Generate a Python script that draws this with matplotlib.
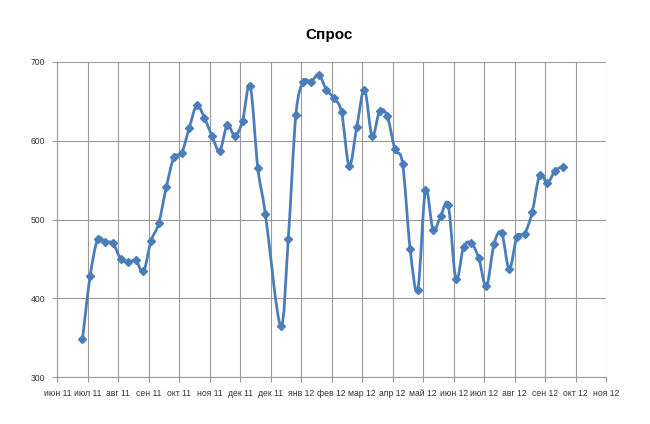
import numpy as np
import matplotlib.pyplot as plt
from matplotlib.path import Path
from matplotlib.patches import PathPatch


# weekly demand ("Спрос"); one week missing at the turn of the year
WEEK = list(range(0, 25)) + list(range(26, 64))
DEMAND = [348, 428, 475, 471, 470, 450, 446, 448, 434, 473,
          495, 541, 579, 584, 616, 645, 629, 606, 587, 620,
          606, 625, 670, 566, 507,
          365, 475, 633, 675, 675, 684, 665, 654, 636, 568,
          618, 665, 606, 638, 631, 589, 571, 462, 411, 537,
          487, 504, 518, 424, 465, 470, 451, 415, 469, 483,
          437, 478, 482, 509, 557, 546, 562, 567]
MONTHS = ['июн 11', 'июл 11', 'авг 11', 'сен 11', 'окт 11', 'ноя 11',
          'дек 11', 'дек 11', 'янв 12', 'фев 12', 'мар 12', 'апр 12',
          'май 12', 'июн 12', 'июл 12', 'авг 12', 'сен 12', 'окт 12',
          'ноя 12']

BLUE = '#4a7ebb'
GRID = '#9a9a9a'

plt.rcParams['font.family'] = ['Liberation Sans', 'DejaVu Sans']


def smooth_path(x, y):
    # smoothed line through the points (cubic bezier, catmull-rom tangents)
    p = np.column_stack([x, y]).astype(float)
    verts = [p[0]]
    codes = [Path.MOVETO]
    n = len(p)
    for i in range(n - 1):
        p0 = p[i - 1] if i > 0 else p[i]
        p1 = p[i]
        p2 = p[i + 1]
        p3 = p[i + 2] if i + 2 < n else p[i + 1]
        c1 = p1 + (p2 - p0) / 6.0
        c2 = p2 - (p3 - p1) / 6.0
        verts += [c1, c2, p2]
        codes += [Path.CURVE4] * 3
    return Path(verts, codes)


def main():
    fig = plt.figure(figsize=(6.5, 4.24), dpi=100)
    ax = fig.add_axes([0.0882, 0.1108, 0.8442, 0.743])

    x0 = -3.3  # left edge of the date axis, in weeks
    ticks = x0 + 4 * np.arange(len(MONTHS))

    patch = PathPatch(smooth_path(WEEK, DEMAND), facecolor='none',
                      edgecolor=BLUE, lw=2.0, zorder=3)
    ax.add_patch(patch)
    ax.plot(WEEK, DEMAND, ls='none', marker='D', ms=4.4,
            color=BLUE, zorder=4)

    ax.set_xlim(ticks[0], ticks[-1])
    ax.set_ylim(300, 700)
    ax.set_xticks(ticks)
    ax.set_xticklabels(MONTHS)
    ax.set_yticks(range(300, 701, 100))

    ax.grid(True, color=GRID, lw=0.8)
    ax.set_axisbelow(True)
    for side in ['top', 'right']:
        ax.spines[side].set_visible(False)
    for side in ['left', 'bottom']:
        ax.spines[side].set_color(GRID)
        ax.spines[side].set_linewidth(0.8)
    ax.tick_params(axis='both', length=3.5, width=0.8, color=GRID,
                   labelsize=6.2, labelcolor='#333333', pad=5)

    fig.text(0.507, 0.917, 'Спрос', ha='center', va='center',
             fontsize=11, fontweight='bold', color='black')

    fig.savefig('out.png', dpi=100)


if __name__ == '__main__':
    main()
